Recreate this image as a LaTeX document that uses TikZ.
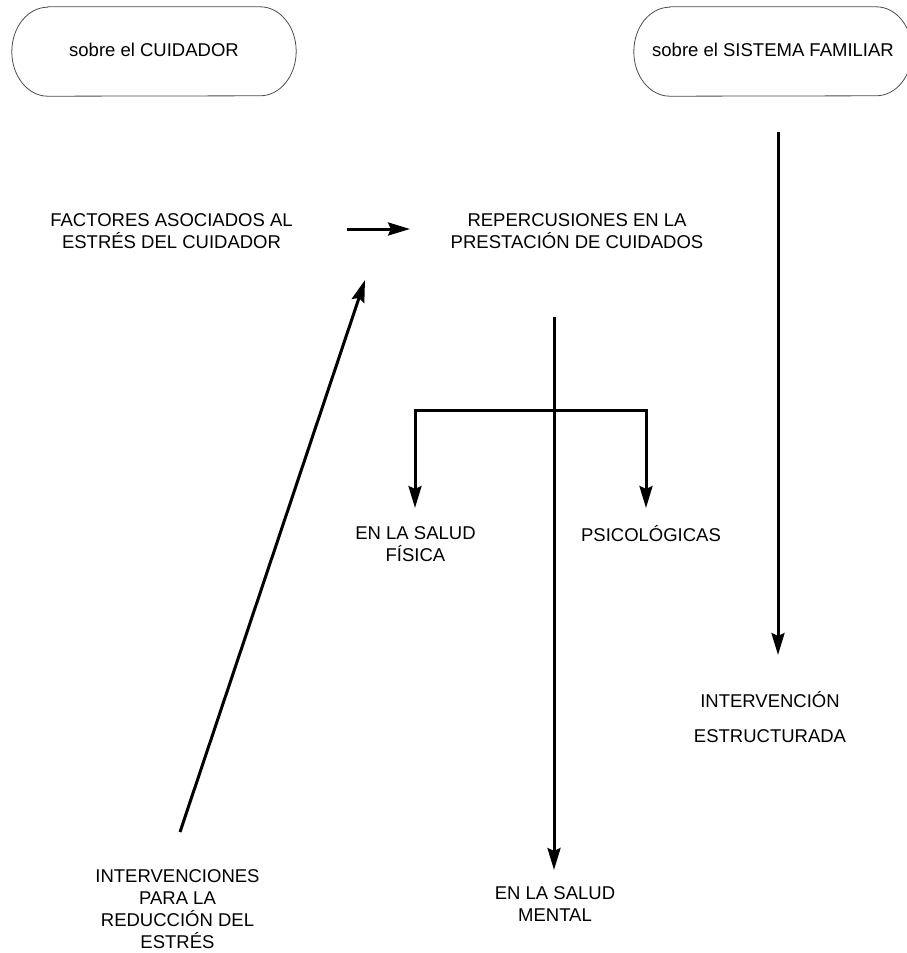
\documentclass[tikz,border=0pt]{standalone}
\usepackage{fontspec}
\setmainfont{Liberation Sans}
\usetikzlibrary{arrows.meta}
\begin{document}
\begin{tikzpicture}[x=1pt,y=-1pt,
  lbl/.style={font=\fontsize{18.5}{22}\selectfont, align=center, inner sep=0pt, anchor=south},
  boxn/.style={font=\fontsize{18.5}{22}\selectfont, inner sep=0pt, draw=none, text height=9.5pt, text depth=0pt},
  boxline/.style={draw=black!70, line width=0.8pt},
  arr/.style={line width=3pt, line join=miter, -{Stealth[length=22pt,width=13pt,inset=3pt]}},
  darr/.style={line width=3pt, line join=miter, {Stealth[length=22pt,width=13pt,inset=3pt]}-{Stealth[length=22pt,width=13pt,inset=3pt]}}
]
\useasboundingbox (0,0) rectangle (907,953);
% boxes
\node[boxn, minimum width=284pt, minimum height=89pt] (cuid) at (154,51.5) {sobre el CUIDADOR};
\node[boxn, minimum width=278pt, minimum height=89pt] (sist) at (773,51.5) {sobre el SISTEMA FAMILIAR};
\foreach \b in {cuid,sist}{
  \draw[boxline] ([xshift=36pt]\b.north west) -- ([xshift=-36pt]\b.north east)
    arc[start angle=90,end angle=-90,x radius=36pt,y radius=44.5pt]
    -- ([xshift=36pt]\b.south west)
    arc[start angle=270,end angle=90,x radius=36pt,y radius=44.5pt] -- cycle;
}
% labels
\node[lbl] (fact) at (171.5,249) {FACTORES ASOCIADOS AL\\ESTRÉS DEL CUIDADOR};
\node[lbl] (rep) at (577,249) {REPERCUSIONES EN LA\\PRESTACIÓN DE CUIDADOS};
\node[lbl] (fis) at (415.5,562) {EN LA SALUD\\FÍSICA};
\node[lbl] (psi) at (651,542) {PSICOLÓGICAS};
\node[lbl] (ment) at (555,922) {EN LA SALUD\\MENTAL};
\node[lbl] (estr) at (770,743) {INTERVENCIÓN\\[13pt]ESTRUCTURADA};
\node[lbl] (red) at (177.5,949) {INTERVENCIONES\\PARA LA\\REDUCCIÓN DEL\\ESTRÉS};
% connector ends
\coordinate (h1) at (347,229);
\coordinate (h2) at (410,229);
\coordinate (d1) at (180,832);
\coordinate (d2) at (365,280);
\coordinate (c1) at (554,317);
\coordinate (c2) at (554,870);
\coordinate (bl) at (415,508);
\coordinate (blc) at (415,410);
\coordinate (brc) at (646,410);
\coordinate (br) at (646,508);
\coordinate (r1) at (778,132);
\coordinate (r2) at (778,655);
% connectors
\draw[arr] (h1) -- (h2);
\draw[arr] (d1) -- (d2);
\draw[arr] (c1) -- (c2);
\draw[darr] (bl) -- (blc) -- (brc) -- (br);
\draw[arr] (r1) -- (r2);
\end{tikzpicture}
\end{document}
